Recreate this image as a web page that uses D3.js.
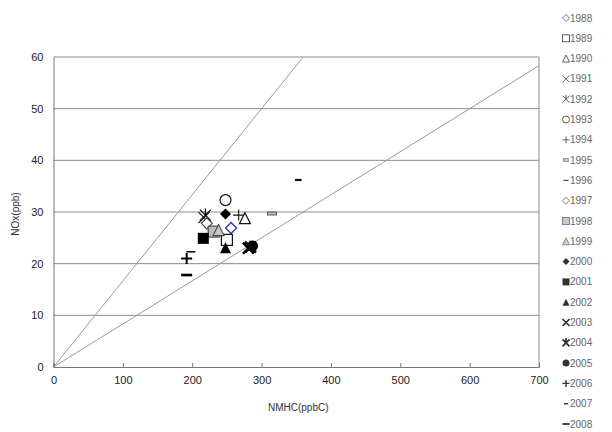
<!DOCTYPE html>
<html>
<head>
<meta charset="utf-8">
<script src="https://cdn.jsdelivr.net/npm/d3@7"></script>
<style>
  body { margin: 0; background: #fff; }
  text { font-family: "Liberation Sans", Arial, sans-serif; }
</style>
</head>
<body>
<div id="chart"></div>
<script>
// data
const years = ['1988','1989','1990','1991','1992','1993','1994','1995','1996','1997','1998',
               '1999','2000','2001','2002','2003','2004','2005','2006','2007','2008'];
const nmhc = [256, 250, 276, 217, 219, 248, 267, 315, 198, 221, 231,
              238, 248, 216, 248, 281, 284, 287, 192, 353, 192];
const nox  = [26.9, 24.6, 28.8, 28.9, 29.4, 32.3, 29.4, 29.7, 22.3, 27.8, 26.2,
              26.5, 29.6, 24.9, 23.1, 23.0, 23.2, 23.4, 21.0, 36.2, 17.8];
const markers = ['diamondBlue','squareOpen','triangleOpen','x','xStar','circleOpen','plus',
                 'rectGray','dash','diamondGray','squareGray','triangleGray','diamondFilled',
                 'squareFilled','triangleFilled','xBold','xStarBold','circleFilled','plusBold',
                 'dashShort','dashBold'];
const xTicks = [0, 100, 200, 300, 400, 500, 600, 700];
const yTicks = [0, 10, 20, 30, 40, 50, 60];
const ratioLines = [6, 12];   // NOx = NMHC / ratio

const width = 612, height = 432;
const plot = {left: 53.5, right: 539, top: 57, bottom: 367};

const svg = d3.select('#chart').append('svg')
    .attr('width', width)
    .attr('height', height);

svg.append('rect').attr('width', width).attr('height', height).attr('fill', '#fff');

const xScale = d3.scaleLinear().domain([0, 700]).range([plot.left, plot.right]),
      yScale = d3.scaleLinear().domain([0, 60]).range([plot.bottom, plot.top]);

// grid lines
svg.append('g').selectAll('line')
    .data(yTicks.filter(d => d > 0))
  .enter().append('line')
    .attr('x1', plot.left).attr('x2', plot.right)
    .attr('y1', d => yScale(d)).attr('y2', d => yScale(d))
    .attr('stroke', '#8c8c8c').attr('stroke-width', 1);

// right border
svg.append('line')
    .attr('x1', plot.right).attr('x2', plot.right)
    .attr('y1', plot.top).attr('y2', plot.bottom)
    .attr('stroke', '#8c8c8c');

// ratio lines, clipped to the plot area
svg.append('clipPath').attr('id', 'clip')
  .append('rect')
    .attr('x', plot.left).attr('y', plot.top)
    .attr('width', plot.right - plot.left).attr('height', plot.bottom - plot.top);

svg.append('g').attr('clip-path', 'url(#clip)').selectAll('line')
    .data(ratioLines)
  .enter().append('line')
    .attr('x1', xScale(0)).attr('y1', yScale(0))
    .attr('x2', d => xScale(Math.min(700, 60 * d)))
    .attr('y2', d => yScale(Math.min(700, 60 * d) / d))
    .attr('stroke', '#9a9a9a').attr('stroke-width', 1);

// axes
svg.append('g')
    .attr('transform', 'translate(0,' + plot.bottom + ')')
    .call(d3.axisBottom(xScale).tickValues(xTicks).tickSize(-4).tickPadding(9))
    .call(g => g.select('.domain').attr('stroke', '#777'))
    .call(g => g.selectAll('.tick line').attr('stroke', '#777'))
    .call(g => g.selectAll('.tick text').attr('font-size', 11).attr('fill', '#222')
                .attr('font-family', '"Liberation Sans", Arial, sans-serif'));

svg.append('g')
    .attr('transform', 'translate(' + plot.left + ',0)')
    .call(d3.axisLeft(yScale).tickValues(yTicks).tickSize(0).tickPadding(10))
    .call(g => g.select('.domain').attr('stroke', '#777'))
    .call(g => g.selectAll('.tick text').attr('font-size', 11).attr('fill', '#222')
                .attr('font-family', '"Liberation Sans", Arial, sans-serif'));

svg.append('text')
    .attr('transform', 'translate(19,' + ((plot.top + plot.bottom) / 2 + 2) + ') rotate(-90)')
    .attr('text-anchor', 'middle')
    .attr('font-size', 10).attr('fill', '#333')
    .text('NOx(ppb)');

svg.append('text')
    .attr('x', (plot.left + plot.right) / 2 + 2).attr('y', 411)
    .attr('text-anchor', 'middle')
    .attr('font-size', 10).attr('fill', '#333')
    .text('NMHC(ppbC)');

// marker drawing; k scales stroke widths
function drawMarker(g, type, s, k) {
  const h = s / 2;
  const tri = 'M0,' + (-h) + 'L' + h + ',' + h + 'L' + (-h) + ',' + h + 'Z';
  const dia = 'M0,' + (-h) + 'L' + h + ',0L0,' + h + 'L' + (-h) + ',0Z';
  const cross = 'M' + (-h) + ',' + (-h) + 'L' + h + ',' + h + 'M' + h + ',' + (-h) + 'L' + (-h) + ',' + h;
  const star = cross + 'M0,' + (-h - 1) + 'L0,0';
  const plus = 'M' + (-h) + ',0L' + h + ',0M0,' + (-h) + 'L0,' + h;
  switch (type) {
    case 'diamondBlue':
      g.append('path').attr('d', dia).attr('fill', 'none').attr('stroke', '#2b2bd0').attr('stroke-width', 1.3 * k); break;
    case 'squareOpen':
      g.append('rect').attr('x', -h).attr('y', -h).attr('width', s).attr('height', s)
        .attr('fill', 'none').attr('stroke', '#111').attr('stroke-width', 1.2 * k); break;
    case 'triangleOpen':
      g.append('path').attr('d', tri).attr('fill', '#fff').attr('stroke', '#111').attr('stroke-width', 1.2 * k); break;
    case 'x':
      g.append('path').attr('d', cross).attr('stroke', '#111').attr('stroke-width', 1.1 * k); break;
    case 'xStar':
      g.append('path').attr('d', star).attr('stroke', '#111').attr('stroke-width', 1.3 * k); break;
    case 'circleOpen':
      g.append('circle').attr('r', h).attr('fill', '#fff').attr('stroke', '#111').attr('stroke-width', 1.2 * k); break;
    case 'plus':
      g.append('path').attr('d', plus).attr('stroke', '#111').attr('stroke-width', 1.1 * k); break;
    case 'rectGray':
      g.append('rect').attr('x', -h + 1).attr('y', -1.5).attr('width', s - 2).attr('height', 3)
        .attr('fill', '#bbb').attr('stroke', '#444').attr('stroke-width', 0.8 * k); break;
    case 'dash':
      g.append('path').attr('d', 'M' + (-h + 1) + ',0L' + (h - 1) + ',0').attr('stroke', '#111').attr('stroke-width', 1.6 * k); break;
    case 'diamondGray':
      g.append('path').attr('d', dia).attr('fill', '#fff').attr('stroke', '#444').attr('stroke-width', 1.2 * k); break;
    case 'squareGray':
      g.append('rect').attr('x', -h).attr('y', -h).attr('width', s).attr('height', s)
        .attr('fill', '#bdbdbd').attr('stroke', '#444').attr('stroke-width', 1.1 * k); break;
    case 'triangleGray':
      g.append('path').attr('d', tri).attr('fill', '#c8c8c8').attr('stroke', '#444').attr('stroke-width', 1.1 * k); break;
    case 'diamondFilled':
      g.append('path').attr('d', dia).attr('fill', '#000'); break;
    case 'squareFilled':
      g.append('rect').attr('x', -h).attr('y', -h).attr('width', s).attr('height', s).attr('fill', '#000'); break;
    case 'triangleFilled':
      g.append('path').attr('d', tri).attr('fill', '#000'); break;
    case 'xBold':
      g.append('path').attr('d', cross).attr('stroke', '#000').attr('stroke-width', 2.4 * k); break;
    case 'xStarBold':
      g.append('path').attr('d', star).attr('stroke', '#000').attr('stroke-width', 2.6 * k); break;
    case 'circleFilled':
      g.append('circle').attr('r', h).attr('fill', '#000'); break;
    case 'plusBold':
      g.append('path').attr('d', plus).attr('stroke', '#000').attr('stroke-width', 2 * k); break;
    case 'dashShort':
      g.append('path').attr('d', 'M' + (-h * 0.6) + ',0L' + (h * 0.6) + ',0').attr('stroke', '#111').attr('stroke-width', 2.2 * k); break;
    case 'dashBold':
      g.append('path').attr('d', 'M' + (-h) + ',0L' + h + ',0').attr('stroke', '#000').attr('stroke-width', 2.6 * k); break;
  }
}

// points
const points = svg.append('g').selectAll('g')
    .data(years.map((y, i) => ({year: y, x: nmhc[i], y: nox[i], m: markers[i]})))
  .enter().append('g')
    .attr('transform', d => 'translate(' + xScale(d.x) + ',' + yScale(d.y) + ')');
points.each(function(d) { drawMarker(d3.select(this), d.m, 11, 1); });

// legend
const legendY = d3.scaleLinear().domain([0, years.length - 1]).range([18, 424]);
const legend = svg.append('g').selectAll('g')
    .data(years.map((y, i) => ({year: y, m: markers[i]})))
  .enter().append('g')
    .attr('transform', (d, i) => 'translate(566,' + legendY(i) + ')');
legend.append('g').attr('opacity', 0.8)
    .each(function(d) { drawMarker(d3.select(this), d.m, 7, 0.7); });
legend.append('text')
    .attr('x', 4).attr('y', 3.5)
    .attr('font-size', 10).attr('fill', '#666')
    .text(d => d.year);
</script>
</body>
</html>
